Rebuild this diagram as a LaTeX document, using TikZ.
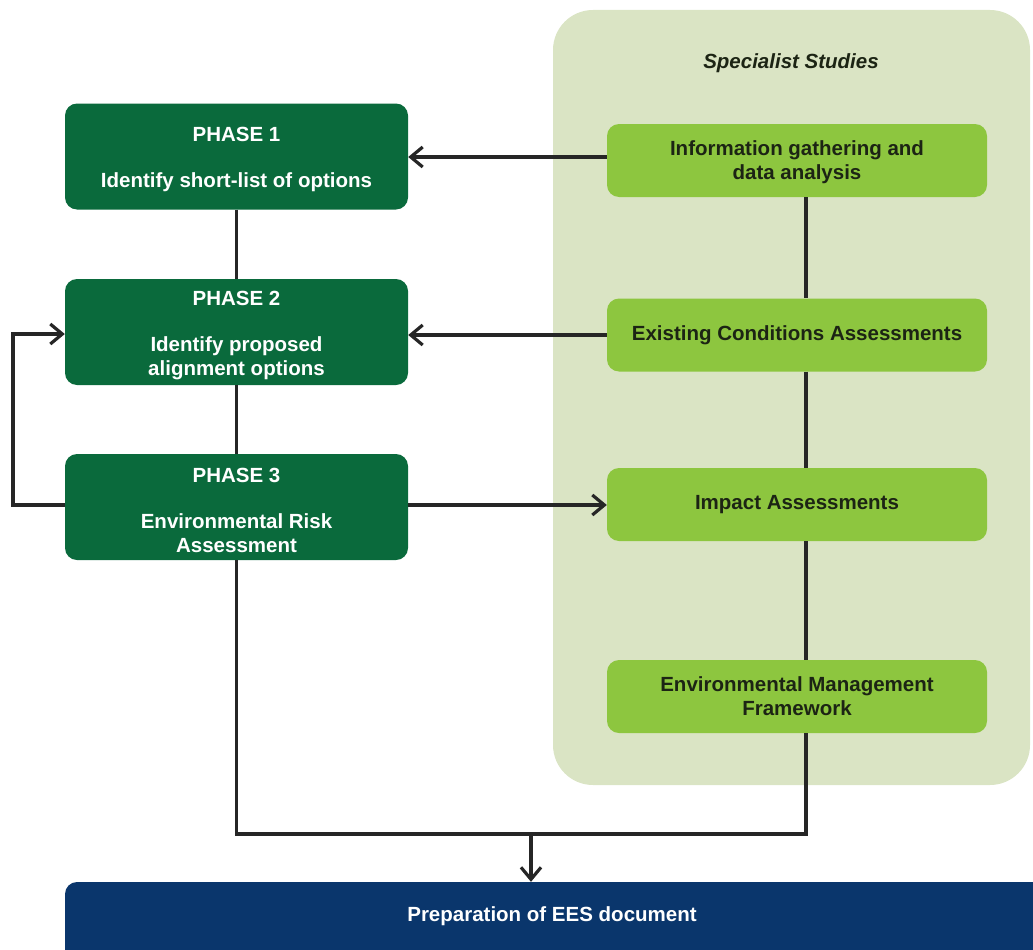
\documentclass[tikz,border=0pt]{standalone}
\usepackage{fontspec}
\setmainfont{Liberation Sans}
\usetikzlibrary{arrows.meta}
\definecolor{darkgreen}{RGB}{10,106,60}
\definecolor{lightgreen}{RGB}{141,198,63}
\definecolor{panelgreen}{RGB}{218,228,196}
\definecolor{navy}{RGB}{10,54,108}
\definecolor{darktext}{RGB}{28,36,20}
\newcommand{\topgap}{\rule{0pt}{21pt}}
\begin{document}
\begin{tikzpicture}[x=1pt,y=-1pt,
  phasebox/.style={fill=darkgreen, rounded corners=12pt, minimum width=343pt, minimum height=106pt,
    text=white, align=center, font=\bfseries\fontsize{20.5}{24}\selectfont, inner sep=0pt},
  studybox/.style={fill=lightgreen, rounded corners=12pt, minimum width=380pt, minimum height=73pt,
    text=darktext, align=center, font=\bfseries\fontsize{20.5}{24}\selectfont, inner sep=0pt},
  conn/.style={line width=3.2pt, draw=black!85},
  arr/.style={conn, -{Straight Barb[length=12pt,width=20pt,line width=3.2pt]}}
]
\useasboundingbox (0,0) rectangle (1033,950);
% panel
\fill[panelgreen, rounded corners=40pt] (553,10) rectangle (1030,785);
\node[font=\bfseries\itshape\fontsize{20.5}{24}\selectfont, text=darktext] (SS) at (791,63) {Specialist Studies};

% phase boxes
\node[phasebox] (P1) at (236.5,156.5) {\topgap PHASE 1\\[22pt]Identify short-list of options};
\node[phasebox] (P2) at (236.5,332) {\topgap PHASE 2\\[22pt]Identify proposed\\alignment options};
\node[phasebox] (P3) at (236.5,507) {\topgap PHASE 3\\[22pt]Environmental Risk\\Assessment};

% study boxes
\node[studybox] (INF) at (797,160.5) {\rule{0pt}{18pt}Information gathering and\\data analysis};
\node[studybox] (EXC) at (797,335) {Existing Conditions Assessments};
\node[studybox] (IMP) at (797,504.5) {Impact Assessments};
\node[studybox] (EMF) at (797,696.5) {Environmental Management\\Framework};

% EES bar
\fill[navy, rounded corners=12pt] (65,882) rectangle (1060,990);
\node[text=white, font=\bfseries\fontsize{20.5}{24}\selectfont, minimum height=68pt, minimum width=100pt, inner sep=0pt] (EES) at (552,916) {Preparation of EES document};

% helper coordinates
\coordinate (vx) at (806,0);
\coordinate (loopx) at (13,0);
\coordinate (busy) at (0,834);
\coordinate (drop) at (531,834);

% vertical connectors
\draw[conn] (P1.south) -- (P2.north);
\draw[conn] (P2.south) -- (P3.north);
\draw[conn] (INF.south -| vx) -- (EXC.north -| vx);
\draw[conn] (EXC.south -| vx) -- (IMP.north -| vx);
\draw[conn] (IMP.south -| vx) -- (EMF.north -| vx);

% horizontal arrows
\draw[arr] (INF.west |- 0,157) -- (P1.east |- 0,157);
\draw[arr] (EXC.west) -- (EXC.west -| P2.east);
\draw[arr] (P3.east |- 0,505) -- (IMP.west |- 0,505);

% loop
\draw[arr] (P3.west |- 0,505) -| (loopx |- 0,334) -- (P2.west |- 0,334);

% bus to EES
\draw[conn] (P3.south) |- (busy -| vx) -- (EMF.south -| vx);
\draw[arr] (drop) -- (EES.north -| drop);
\end{tikzpicture}
\end{document}
